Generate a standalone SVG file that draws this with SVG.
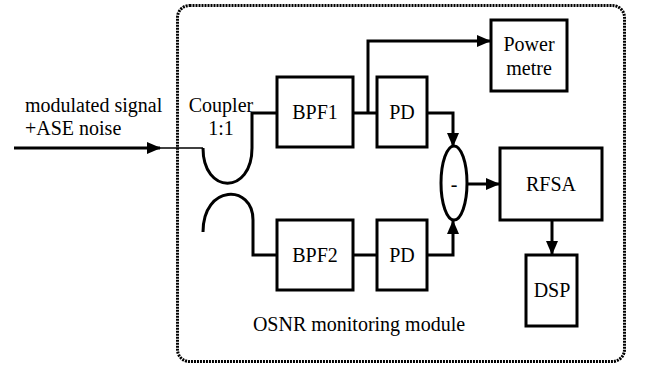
<svg xmlns="http://www.w3.org/2000/svg" width="647" height="367" viewBox="0 0 647 367">
<style>
.box{fill:#fff;stroke:#000;stroke-width:3}
.ln{fill:none;stroke:#000;stroke-width:3}
text{font-family:"Liberation Serif","Times New Roman",serif;font-size:20px;fill:#000}
.c{text-anchor:middle}
</style>
<defs>
<marker id="ah" markerWidth="14" markerHeight="12" refX="13" refY="6" orient="auto" markerUnits="userSpaceOnUse">
<path d="M0,0 L14,6 L0,12 Z" fill="#000"/>
</marker>
</defs>
<rect x="177.5" y="5.5" width="447" height="356" rx="12" fill="none" stroke="#000" stroke-width="3" stroke-dasharray="2 1"/>
<text x="25" y="112">modulated signal</text>
<text x="25" y="135">+ASE noise</text>
<text class="c" x="221" y="112">Coupler</text>
<text class="c" x="221" y="135">1:1</text>
<text class="c" x="359" y="331">OSNR monitoring module</text>
<g id="connectors">
<line x1="14" y1="148" x2="160" y2="148" class="ln" stroke-width="4" marker-end="url(#ah)"/>
<line x1="155" y1="148" x2="203" y2="148" stroke="#000" stroke-width="1.5"/>
<path class="ln" d="M203,148 C203,195 252,195 252,148 L252,113 L277,113"/>
<path class="ln" d="M203,232 C203,184 253,184 253,220 L253,255 L277,255"/>
<line class="ln" x1="353" y1="113" x2="377" y2="113"/>
<path class="ln" d="M368,113 L368,41 L490,41" marker-end="url(#ah)"/>
<path class="ln" d="M427,113 L453,113 L453,146" marker-end="url(#ah)"/>
<line class="ln" x1="353" y1="255" x2="377" y2="255"/>
<path class="ln" d="M427,255 L453,255 L453,221" marker-end="url(#ah)"/>
<line class="ln" x1="467" y1="184" x2="499" y2="184" marker-end="url(#ah)"/>
<line class="ln" x1="552" y1="220" x2="552" y2="254" marker-end="url(#ah)"/>
</g>
<g id="bpf1"><rect class="box" x="277" y="77" width="76" height="70"/><text class="c" x="315" y="119">BPF1</text></g>
<g id="pd1"><rect class="box" x="377" y="77" width="50" height="70"/><text class="c" x="402" y="119">PD</text></g>
<g id="power"><rect class="box" x="491" y="20" width="76" height="71"/><text class="c" x="529" y="51">Power</text><text class="c" x="529" y="75">metre</text></g>
<g id="sub"><ellipse class="box" cx="454" cy="183" rx="13" ry="37"/><text class="c" x="454" y="191">-</text></g>
<g id="rfsa"><rect class="box" x="500" y="148" width="102" height="72"/><text class="c" x="551" y="191">RFSA</text></g>
<g id="dsp"><rect class="box" x="526" y="255" width="51" height="71"/><text class="c" x="552" y="297">DSP</text></g>
<g id="bpf2"><rect class="box" x="277" y="220" width="76" height="70"/><text class="c" x="315" y="262">BPF2</text></g>
<g id="pd2"><rect class="box" x="377" y="220" width="50" height="70"/><text class="c" x="402" y="262">PD</text></g>
</svg>
